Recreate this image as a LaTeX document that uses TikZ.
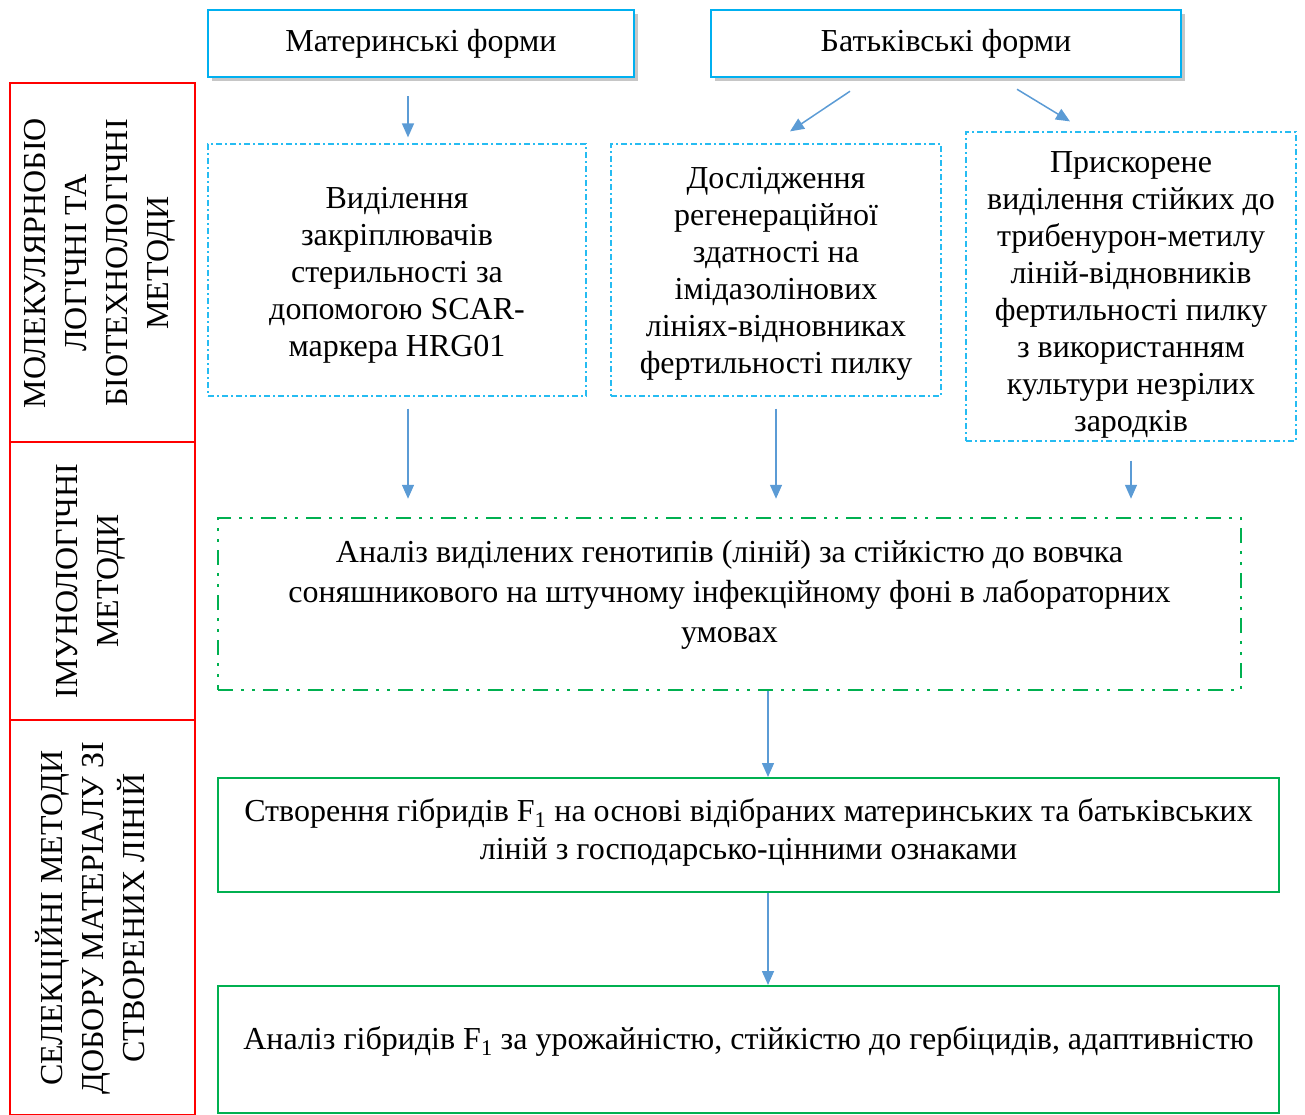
\documentclass[tikz,border=0pt]{standalone}
\usepackage{fontspec}
\setmainfont{Liberation Serif}
\usetikzlibrary{arrows.meta,shadows}
\definecolor{boxcyan}{HTML}{00B0F0}
\definecolor{boxgreen}{HTML}{00B050}
\definecolor{arrowblue}{HTML}{5B9BD5}
\definecolor{secred}{HTML}{FF0000}
\tikzset{
    txt/.style={font=\fontsize{32}{37}\selectfont, align=center, inner sep=0pt},
    formbox/.style={txt, draw=boxcyan, line width=2.5pt, fill=white, minimum height=67pt,
        drop shadow={shadow xshift=4pt, shadow yshift=-4pt, fill=black!50, opacity=.45}},
    methodbox/.style={draw=boxcyan!85, line width=1.2pt, dash pattern=on 6pt off 3pt on 2pt off 3pt},
    immbox/.style={draw=boxgreen, line width=2.5pt, dash pattern=on 15pt off 8pt on 3pt off 8pt on 3pt off 8pt},
    stepbox/.style={draw=boxgreen, line width=2pt},
    secbox/.style={draw=secred, line width=2.5pt, minimum width=185pt},
    sectxt/.style={font=\fontsize{32}{41}\selectfont, align=center, rotate=90, inner sep=0pt},
    arr/.style={draw=arrowblue, line width=1.5pt, -{Triangle[length=14pt,width=12pt]}}
}
\begin{document}
\begin{tikzpicture}[x=1pt,y=-1pt]
        \useasboundingbox (0,0) rectangle (1305,1115);

        \node[secbox, minimum height=359pt] (sec1) at (102.5,262.5) {};
        \node[secbox, minimum height=278pt] (sec2) at (102.5,581) {};
        \node[secbox, minimum height=395pt] (sec3) at (102.5,917.5) {};
        \node[sectxt] (sec1txt) at (100,263) {МОЛЕКУЛЯРНОБІО\\ЛОГІЧНІ ТА\\БІОТЕХНОЛОГІЧНІ\\МЕТОДИ};
        \node[sectxt] (sec2txt) at (91,581) {ІМУНОЛОГІЧНІ\\МЕТОДИ};
        \node[sectxt] (sec3txt) at (90,918) {СЕЛЕКЦІЙНІ МЕТОДИ\\ДОБОРУ МАТЕРІАЛУ ЗІ\\СТВОРЕНИХ ЛІНІЙ};

        \node[formbox, minimum width=426pt] (mat) at (421,43.5) {Материнські форми};
        \node[formbox, minimum width=470pt] (bat) at (946,43.5) {Батьківські форми};

        \node[methodbox, minimum width=378pt, minimum height=252pt] (selA) at (397,270) {};
        \node[txt] (selAtxt) at ([yshift=-5pt]selA.center)
            {Виділення\\закріплювачів\\стерильності за\\допомогою SCAR-\\маркера HRG01};
        \node[methodbox, minimum width=330pt, minimum height=252pt] (selB) at (776,270) {};
        \node[txt] (selBtxt) at ([yshift=-4pt]selB.center)
            {Дослідження\\регенераційної\\здатності на\\імідазолінових\\лініях-відновниках\\фертильності пилку};
        \node[methodbox, minimum width=330pt, minimum height=309pt] (selC) at (1131,286.5) {};
        \node[txt] (selCtxt) at ([yshift=-8pt]selC.center)
            {Прискорене\\виділення стійких до\\трибенурон-метилу\\ліній-відновників\\фертильності пилку\\з використанням\\культури незрілих\\зародків};

        \node[immbox, minimum width=1023pt, minimum height=172pt] (imm) at (729.5,604) {};
        \node[txt, font=\fontsize{32}{40}\selectfont] (immtxt) at ([yshift=9pt]imm.center)
            {Аналіз виділених генотипів (ліній) за стійкістю до вовчка\\соняшникового на штучному інфекційному фоні в лабораторних\\умовах};

        \node[stepbox, minimum width=1061pt, minimum height=114pt] (crea) at (748.5,835) {};
        \node[txt, font=\fontsize{32}{38}\selectfont] (creatxt) at ([yshift=3pt]crea.center)
            {Створення гібридів F\textsubscript{1} на основі відібраних материнських та батьківських\\ліній з господарсько-цінними ознаками};

        \node[stepbox, minimum width=1061pt, minimum height=127pt] (anal) at (748.5,1049.5) {};
        \node[txt] (analtxt) at ([yshift=8pt]anal.center)
            {Аналіз гібридів F\textsubscript{1} за урожайністю, стійкістю до гербіцидів, адаптивністю};

        \coordinate (a1) at ([xshift=-13pt]mat.south);
        \draw[arr, shorten <=18pt, shorten >=6pt] (a1) -- (a1 |- selA.north);
        \draw[arr] ([xshift=-96pt,yshift=-13pt]bat.south) -- ([xshift=14pt,yshift=12pt]selB.north);
        \draw[arr] ([xshift=71pt,yshift=-11pt]bat.south) -- ([xshift=-61pt,yshift=10pt]selC.north);

        \coordinate (a4) at ([xshift=11pt]selA.south);
        \draw[arr, shorten <=12pt, shorten >=18pt] (a4) -- (a4 |- imm.north);
        \draw[arr, shorten <=12pt, shorten >=18pt] (selB.south) -- (selB.south |- imm.north);
        \draw[arr, shorten <=19pt, shorten >=18pt] (selC.south) -- (selC.south |- imm.north);

        \coordinate (a7) at ([xshift=38.5pt]imm.south);
        \draw[arr] (a7) -- (a7 |- crea.north);
        \coordinate (a8) at ([xshift=19.5pt]crea.south);
        \draw[arr] (a8) -- (a8 |- anal.north);

    \end{tikzpicture}
\end{document}
